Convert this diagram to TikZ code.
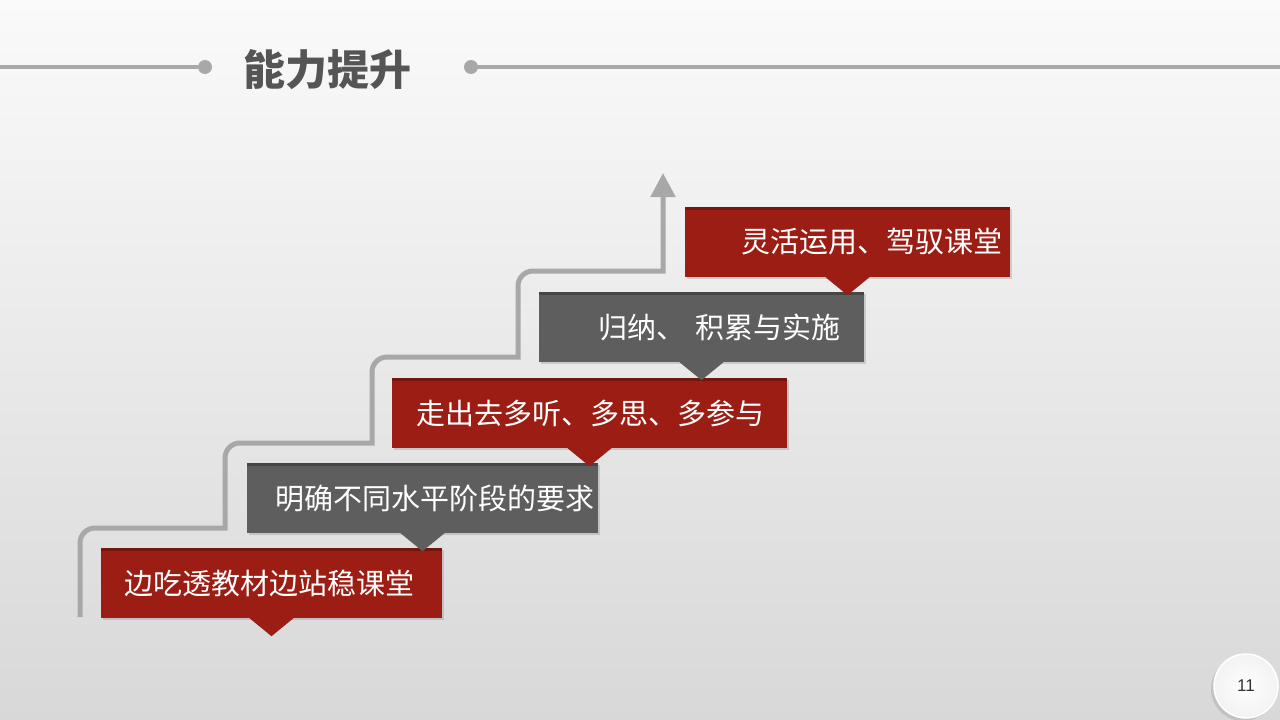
\documentclass[tikz,border=0pt]{standalone}
\usepackage{fontspec}
\newfontfamily\cjk{Noto Sans CJK SC}
\setsansfont{Liberation Sans}
\usetikzlibrary{arrows.meta,positioning,shadows}
\definecolor{stepred}{RGB}{156,29,19}
\definecolor{stepgray}{RGB}{94,94,94}
\definecolor{stairgray}{RGB}{168,168,168}
\definecolor{titlegray}{RGB}{85,85,85}
\definecolor{bgtop}{RGB}{250,250,250}
\definecolor{bgbottom}{RGB}{216,216,216}

\begin{document}
\begin{tikzpicture}[x=1pt,y=-1pt,
    step box/.style={minimum height=70pt,inner sep=0pt,
        drop shadow={opacity=.3,shadow xshift=1.5pt,shadow yshift=-1.5pt},
        path picture={\fill[black,opacity=.25] (path picture bounding box.north west)
            rectangle ([yshift=-3pt]path picture bounding box.north east);}},
    redstep/.style={step box,fill=stepred},
    graystep/.style={step box,fill=stepgray},
    steptext/.style={font=\cjk\fontsize{29}{34}\selectfont,text=white,inner sep=0pt},
    stair/.style={draw=stairgray,line width=5pt},
    dot/.style={circle,fill=stairgray,minimum size=14pt,inner sep=0pt}]

    % background
    \shade[top color=bgtop,bottom color=bgbottom] (0,0) rectangle (1280,720);
    \useasboundingbox (0,0) rectangle (1280,720);

    % title
    \node[font=\cjk\bfseries\fontsize{42}{50}\selectfont,text=titlegray] (title) at (327.5,70) {能力提升};
    \node[dot] (ldot) at (205,67) {};
    \node[dot] (rdot) at (471,67) {};
    \coordinate (lend) at (0,67);
    \coordinate (rend) at (1280,67);
    \draw[draw=stairgray,line width=4pt] (lend) -- (ldot);
    \draw[draw=stairgray,line width=4pt] (rdot) -- (rend);

    % staircase
    \coordinate (a0) at (80,617);
    \coordinate (a1) at (80,528);
    \coordinate (a2) at (225,528);
    \coordinate (a3) at (225,443);
    \coordinate (a4) at (372,443);
    \coordinate (a5) at (372,357);
    \coordinate (a6) at (518,357);
    \coordinate (a7) at (518,271);
    \coordinate (a8) at (663,271);
    \coordinate (a9) at (663,173);
    \draw[stair,-{Triangle[width=24pt,length=24pt]}] (a0) [rounded corners=15pt]-- (a1) [sharp corners]-- (a2)
        [rounded corners=15pt]-- (a3) [sharp corners]-- (a4) [rounded corners=15pt]-- (a5) [sharp corners]-- (a6)
        [rounded corners=15pt]-- (a7) [sharp corners]-- (a8) -- (a9);

    % steps
    \node[redstep,minimum width=341pt] (s1) at (271.5,583) {};
    \fill[stepred] ([xshift=-22pt]s1.south) -- ([xshift=22pt]s1.south) -- ([yshift=-18pt]s1.south) -- cycle;
    \node[steptext,right=23pt of s1.west] (t1) {边吃透教材边站稳课堂};

    \node[graystep,minimum width=351pt] (s2) at (422.5,498) {};
    \fill[stepgray] ([xshift=-22pt]s2.south) -- ([xshift=22pt]s2.south) -- ([yshift=-18pt]s2.south) -- cycle;
    \node[steptext,right=28pt of s2.west] (t2) {明确不同水平阶段的要求};

    \node[redstep,minimum width=395pt] (s3) at (589.5,413) {};
    \fill[stepred] ([xshift=-22pt]s3.south) -- ([xshift=22pt]s3.south) -- ([yshift=-18pt]s3.south) -- cycle;
    \node[steptext,right=24pt of s3.west] (t3) {走出去多听、多思、多参与};

    \node[graystep,minimum width=325pt] (s4) at (701.5,327) {};
    \fill[stepgray] ([xshift=-22pt]s4.south) -- ([xshift=22pt]s4.south) -- ([yshift=-18pt]s4.south) -- cycle;
    \node[steptext,right=59pt of s4.west] (t4) {归纳、\hspace{11pt}积累与实施};

    \node[redstep,minimum width=325pt] (s5) at (847.5,242) {};
    \fill[stepred] ([xshift=-22pt]s5.south) -- ([xshift=22pt]s5.south) -- ([yshift=-18pt]s5.south) -- cycle;
    \node[steptext,right=56pt of s5.west] (t5) {灵活运用、驾驭课堂};

    % page number
    \node[circle,minimum size=64pt,inner color=white,outer color=gray!10,draw=white,line width=1.5pt,
        drop shadow={opacity=.25,shadow xshift=-3pt,shadow yshift=-3pt},
        font=\sffamily\fontsize{17}{20}\selectfont,text=black!80] (page) at (1246,686) {11};
\end{tikzpicture}
\end{document}
